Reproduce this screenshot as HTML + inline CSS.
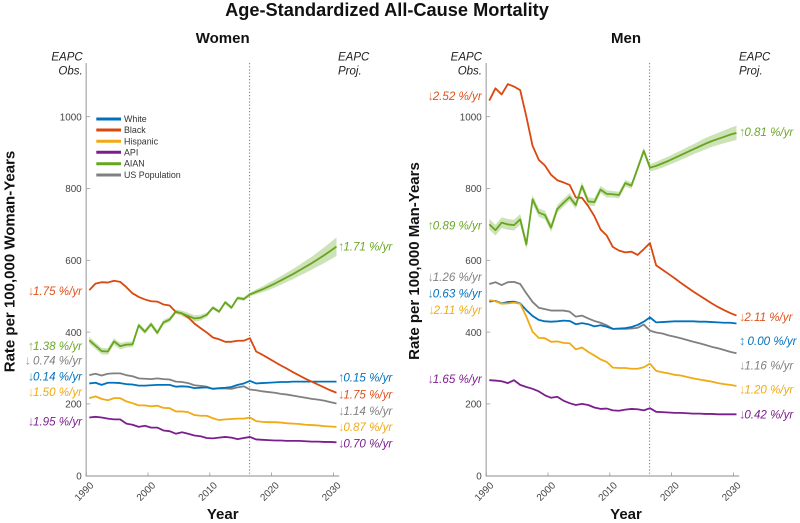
<!DOCTYPE html>
<html lang="en">
<head>
<meta charset="utf-8">
<title>Age-Standardized All-Cause Mortality</title>
<style>
html,body{margin:0;padding:0;background:#fff;}
svg{display:block;font-family:"Liberation Sans","DejaVu Sans",sans-serif;}
.title{font-weight:bold;font-size:18.2px;fill:#111;text-anchor:middle;}
.panel-title{font-weight:bold;font-size:15px;fill:#111;text-anchor:middle;}
.axis-title{font-weight:bold;font-size:15px;fill:#111;text-anchor:middle;}
.head{font-style:italic;font-size:11.5px;fill:#222;}
.eapc{font-style:italic;font-size:11.6px;}
.arr{font-style:normal;font-size:13px;opacity:.75;letter-spacing:-1.2px;}
.tick{font-size:9.9px;fill:#444;}
.legend{font-size:8.9px;fill:#333;}
</style>
</head>
<body>
<svg id="chart" width="800" height="523" viewBox="0 0 800 523" xmlns="http://www.w3.org/2000/svg">
<text class="title" x="387" y="16">Age-Standardized All-Cause Mortality</text>

<g id="women-panel">
<text class="panel-title" x="222.7" y="43">Women</text>
<text class="head" x="82.7" y="60.5" text-anchor="end">EAPC</text>
<text class="head" x="82.7" y="74.5" text-anchor="end">Obs.</text>
<text class="head" x="338" y="60.5">EAPC</text>
<text class="head" x="338" y="74.5">Proj.</text>
<text class="axis-title" transform="translate(14.5,261.5) rotate(-90)">Rate per 100,000 Woman-Years</text>
<text class="axis-title" x="222.7" y="519">Year</text>
</g>

<g id="men-panel">
<text class="panel-title" x="626" y="43">Men</text>
<text class="head" x="482" y="60.5" text-anchor="end">EAPC</text>
<text class="head" x="482" y="74.5" text-anchor="end">Obs.</text>
<text class="head" x="739" y="60.5">EAPC</text>
<text class="head" x="739" y="74.5">Proj.</text>
<text class="axis-title" transform="translate(419,261) rotate(-90)">Rate per 100,000 Man-Years</text>
<text class="axis-title" x="626" y="519">Year</text>
</g>

<g id="legend">
<g><line x1="96.3" x2="121" y1="119" y2="119" stroke="#0072bd" stroke-width="3"/><text class="legend" x="124" y="122">White</text></g>
<g><line x1="96.3" x2="121" y1="130" y2="130" stroke="#d9480f" stroke-width="3"/><text class="legend" x="124" y="133">Black</text></g>
<g><line x1="96.3" x2="121" y1="141.3" y2="141.3" stroke="#f0aa14" stroke-width="3"/><text class="legend" x="124" y="144.3">Hispanic</text></g>
<g><line x1="96.3" x2="121" y1="152.3" y2="152.3" stroke="#7b1f8e" stroke-width="3"/><text class="legend" x="124" y="155.3">API</text></g>
<g><line x1="96.3" x2="121" y1="163.7" y2="163.7" stroke="#66a61e" stroke-width="3"/><text class="legend" x="124" y="166.7">AIAN</text></g>
<g><line x1="96.3" x2="121" y1="175" y2="175" stroke="#808080" stroke-width="3"/><text class="legend" x="124" y="178">US Population</text></g>
</g>

<g id="eapc-labels">
<text class="eapc" fill="#e0501a" x="82" y="295" text-anchor="end"><tspan class="arr">↓</tspan>1.75 %/yr</text>
<text class="eapc" fill="#6aa826" x="82" y="350" text-anchor="end"><tspan class="arr">↑</tspan>1.38 %/yr</text>
<text class="eapc" fill="#808080" x="82" y="364.5" text-anchor="end"><tspan class="arr">↓</tspan> 0.74 %/yr</text>
<text class="eapc" fill="#0072bd" x="82" y="380.5" text-anchor="end"><tspan class="arr">↓</tspan>0.14 %/yr</text>
<text class="eapc" fill="#f0aa14" x="82" y="396" text-anchor="end"><tspan class="arr">↓</tspan>1.50 %/yr</text>
<text class="eapc" fill="#7b1f8e" x="82" y="425.5" text-anchor="end"><tspan class="arr">↓</tspan>1.95 %/yr</text>

<text class="eapc" fill="#6aa826" x="338" y="250.5"><tspan class="arr">↑</tspan>1.71 %/yr</text>
<text class="eapc" fill="#0072bd" x="338" y="381.5"><tspan class="arr">↑</tspan>0.15 %/yr</text>
<text class="eapc" fill="#e0501a" x="338" y="398.5"><tspan class="arr">↓</tspan>1.75 %/yr</text>
<text class="eapc" fill="#808080" x="338" y="415"><tspan class="arr">↓</tspan>1.14 %/yr</text>
<text class="eapc" fill="#f0aa14" x="338" y="431"><tspan class="arr">↓</tspan>0.87 %/yr</text>
<text class="eapc" fill="#7b1f8e" x="338" y="447.5"><tspan class="arr">↓</tspan>0.70 %/yr</text>

<text class="eapc" fill="#e0501a" x="481.7" y="100" text-anchor="end"><tspan class="arr">↓</tspan>2.52 %/yr</text>
<text class="eapc" fill="#6aa826" x="481.7" y="229.5" text-anchor="end"><tspan class="arr">↑</tspan>0.89 %/yr</text>
<text class="eapc" fill="#808080" x="481.7" y="281" text-anchor="end"><tspan class="arr">↓</tspan>1.26 %/yr</text>
<text class="eapc" fill="#0072bd" x="481.7" y="297.5" text-anchor="end"><tspan class="arr">↓</tspan>0.63 %/yr</text>
<text class="eapc" fill="#f0aa14" x="481.7" y="314" text-anchor="end"><tspan class="arr">↓</tspan>2.11 %/yr</text>
<text class="eapc" fill="#7b1f8e" x="481.7" y="383" text-anchor="end"><tspan class="arr">↓</tspan>1.65 %/yr</text>

<text class="eapc" fill="#6aa826" x="739" y="136"><tspan class="arr">↑</tspan>0.81 %/yr</text>
<text class="eapc" fill="#e0501a" x="739" y="321"><tspan class="arr">↓</tspan>2.11 %/yr</text>
<text class="eapc" fill="#0072bd" x="739" y="345"><tspan class="arr">↕</tspan> 0.00 %/yr</text>
<text class="eapc" fill="#808080" x="739" y="369.5"><tspan class="arr">↓</tspan>1.16 %/yr</text>
<text class="eapc" fill="#f0aa14" x="739" y="393.5"><tspan class="arr">↓</tspan>1.20 %/yr</text>
<text class="eapc" fill="#7b1f8e" x="739" y="418.5"><tspan class="arr">↓</tspan>0.42 %/yr</text>
</g>
</svg>

<script>
// Shared categories and ticks
const startYear = 1990;
const yTickValues = [0, 200, 400, 600, 800, 1000];
const xTickValues = [1990, 2000, 2010, 2020, 2030];
const projectionStartYear = 2016;

// Women: one value per year 1990..2030
const womenWhite = [257,259,253,259,259,258,255,254,251,251,252,253,253,253,248,249,248,244,245,246,242,244,245,247,253,257,264,257,258,259,260,261,261,262,262,262,262,262,262,262,262];
const womenBlack = [517,535,539,538,543,540,525,508,498,491,486,485,477,474,456,452,441,424,411,399,385,380,373,373,376,376,383,346,337,327,317,307,298,288,279,270,262,254,246,238,231];
const womenHispanic = [216,221,214,210,216,216,207,202,196,196,193,195,189,188,179,179,177,169,167,167,160,155,157,158,159,159,162,152,150,149,149,148,146,145,144,142,141,140,138,137,136];
const womenApi = [162,164,162,159,157,157,145,142,136,139,134,134,126,124,117,121,117,112,110,105,104,106,108,106,102,105,108,101,100,99,98,98,97,97,97,96,95,95,94,94,93];
const womenAian = [377,362,347,346,374,361,365,366,419,401,422,398,427,435,457,452,445,438,440,448,468,457,483,468,495,492,505,512,519,527,535,544,553,562,572,582,592,603,614,626,638];
const womenUs = [280,284,279,284,285,285,280,277,271,270,269,271,269,268,262,261,258,252,250,248,242,243,243,242,246,249,240,238,235,233,231,228,226,223,220,217,214,212,209,205,201];
const womenAianBand = [9,9,9,9,9,9,8,8,7,7,7,7,7,7,6,8,9,9,8,6,5,5,5,5,5,5,5,7,8,10,11,12,13,14,15,17,18,20,22,24,26];

// Men: one value per year 1990..2030
const menWhite = [485,487,480,484,485,480,461,445,434,430,429,430,432,431,422,425,422,416,419,415,409,410,411,414,420,429,441,427,428,429,430,430,430,430,429,429,428,427,426,426,424];
const menBlack = [1045,1079,1062,1091,1084,1074,1000,919,880,864,838,823,817,810,775,774,751,723,686,669,637,627,622,624,615,631,648,586,574,562,550,537,525,513,502,491,480,470,461,453,446];
const menHispanic = [489,486,479,480,482,479,443,401,384,383,373,374,370,369,352,357,345,335,324,317,301,300,300,298,298,302,312,292,288,285,281,279,275,271,268,265,262,258,255,253,250];
const menApi = [266,265,263,258,266,253,247,242,235,224,217,220,209,202,197,200,197,190,186,187,182,181,184,186,185,182,188,178,177,176,175,175,174,173,173,172,172,171,171,171,171];
const menAian = [700,684,705,700,698,714,644,770,733,726,691,743,760,776,754,807,764,762,797,785,784,782,815,808,856,905,858,863,870,877,885,893,901,909,917,925,932,938,944,950,955];
const menUs = [534,539,531,539,540,534,508,484,468,464,460,460,460,457,443,446,438,431,426,419,409,409,409,410,412,421,404,399,396,391,387,383,378,373,369,364,359,355,350,345,341];
const menAianBand = [15,15,15,15,15,15,14,12,12,12,12,11,11,11,11,11,11,11,10,10,9,9,9,9,9,9,10,11,12,12,13,13,14,14,15,16,16,17,18,19,20];

const svgNS = 'http://www.w3.org/2000/svg';
const chart = document.getElementById('chart');

function yScale(v) { return 475.7 - v * 0.359; }
function xScale(year, left) { return left + (year - startYear) * 6.18; }
function pointX(i, left) { return xScale(startYear + i + 0.5, left); }

function make(parent, tag, attrs) {
  const el = document.createElementNS(svgNS, tag);
  for (const k in attrs) el.setAttribute(k, attrs[k]);
  parent.appendChild(el);
  return el;
}

function linePoints(values, left) {
  return values.map(function (v, i) { return pointX(i, left).toFixed(2) + ',' + yScale(v).toFixed(2); }).join(' ');
}

function drawAxes(group, left) {
  const yAxis = make(group, 'line', {x1: left, x2: left, y1: 63, y2: 476, stroke: '#b4b4b4', 'stroke-width': 1.4});
  
  
  const xAxis = make(group, 'line', {x1: left - 0.7, x2: left + 253, y1: 476, y2: 476, stroke: '#b4b4b4', 'stroke-width': 1.4});
  
  
  yTickValues.forEach(function (v) {
    const y = yScale(v);
    if (v > 0) {
      const mark = make(group, 'line', {x1: left, x2: left + 4, y1: y, y2: y, stroke: '#999', 'stroke-width': 0.8});
      
      
    }
    const label = make(group, 'text', {'class': 'tick', x: left - 4.5, y: y + 3.7, 'text-anchor': 'end'});
    
    
    label.textContent = String(v);
  });
  xTickValues.forEach(function (yr) {
    const x = xScale(yr, left);
    const mark = make(group, 'line', {x1: x, x2: x, y1: 476, y2: 472.5, stroke: '#999', 'stroke-width': 0.8});
    
    
    const label = make(group, 'text', {'class': 'tick', x: 0, y: 0, 'text-anchor': 'end', transform: 'translate(' + (x + 8) + ',486) rotate(-45)'});
    
    
    label.textContent = String(yr);
  });
}

function drawBand(group, values, halfWidths, left) {
  const upper = values.map(function (v, i) { return pointX(i, left).toFixed(2) + ',' + yScale(v + halfWidths[i]).toFixed(2); });
  const lower = values.map(function (v, i) { return pointX(i, left).toFixed(2) + ',' + yScale(v - halfWidths[i]).toFixed(2); }).reverse();
  const band = make(group, 'polygon', {points: upper.concat(lower).join(' '), fill: '#66a61e', 'fill-opacity': 0.32});
  
  
}

function drawSeries(group, values, color, name, left) {
  const line = make(group, 'polyline', {points: linePoints(values, left), fill: 'none', stroke: color, 'stroke-width': 1.8, 'stroke-linejoin': 'round'});
  
  
}

function drawPanel(groupId, left, s) {
  const group = document.getElementById(groupId);
  drawAxes(group, left);
  drawBand(group, s.aian, s.band, left);
  const divider = make(group, 'line', {x1: xScale(projectionStartYear + 0.45, left), x2: xScale(projectionStartYear + 0.45, left), y1: 63, y2: 476, stroke: '#666', 'stroke-width': 0.9, 'stroke-dasharray': '1.2 2'});
  
  
  drawSeries(group, s.us, '#808080', 'line-us-population', left);
  drawSeries(group, s.white, '#0072bd', 'line-white', left);
  drawSeries(group, s.black, '#d9480f', 'line-black', left);
  drawSeries(group, s.hispanic, '#f0aa14', 'line-hispanic', left);
  drawSeries(group, s.api, '#7b1f8e', 'line-api', left);
  drawSeries(group, s.aian, '#66a61e', 'line-aian', left);
}

drawPanel('women-panel', 86.2, {white: womenWhite, black: womenBlack, hispanic: womenHispanic, api: womenApi, aian: womenAian, us: womenUs, band: womenAianBand});
drawPanel('men-panel', 486.2, {white: menWhite, black: menBlack, hispanic: menHispanic, api: menApi, aian: menAian, us: menUs, band: menAianBand});
</script>
</body>
</html>
